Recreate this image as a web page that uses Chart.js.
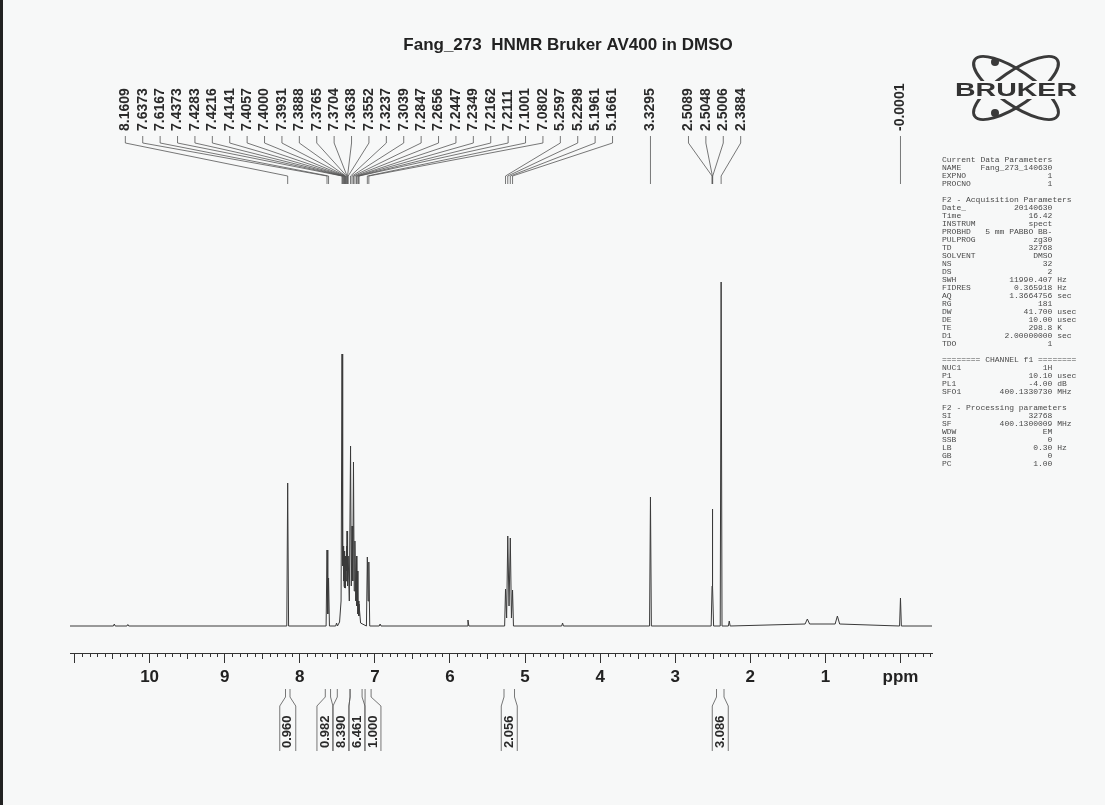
<!DOCTYPE html>
<html><head><meta charset="utf-8">
<script src="https://cdn.jsdelivr.net/npm/chart.js@4.4.1/dist/chart.umd.min.js"></script>
<style>html,body{margin:0;padding:0;background:#f7f8f8;overflow:hidden}#wrap{width:1105px;height:805px;position:relative}</style>
</head><body><div id="wrap"><canvas id="c" width="1105" height="805"></canvas></div>
<script>
const titleText = 'Fang_273  HNMR Bruker AV400 in DMSO';

// peak apexes (ppm, height above baseline)
const peakPpm = [10.47, 10.29, 8.1609, 7.6373, 7.6167, 7.51,
  7.4373, 7.4283, 7.4216, 7.4141, 7.4057, 7.4000, 7.3931, 7.3888, 7.3765, 7.3704, 7.3638, 7.3552,
  7.3237, 7.3039, 7.2847, 7.2656, 7.2447, 7.2349, 7.2162, 7.2111, 7.1001, 7.0802, 6.93,
  5.76, 5.2597, 5.2298, 5.1961, 5.1661, 4.50, 3.3295, 2.5089, 2.5048, 2.5006, 2.3884, 2.28,
  1.24, 0.84, -0.0001];
const peakHeight = [2, 1.5, 143, 76, 48, 3,
  272, 217, 80, 70, 75, 65, 60, 70, 80, 95, 75, 70,
  180, 100, 164, 85, 70, 55, 25, 22, 69, 64, 2,
  6, 37, 90, 88, 36, 3, 129, 40, 117, 40, 344, 5,
  7, 10, 28];
// valleys / envelope points between overlapping lines
const valleyPpm = [7.627, 7.47, 7.45, 7.4328, 7.4250, 7.4178, 7.4099, 7.4028, 7.3965, 7.3910, 7.3826,
  7.3735, 7.3671, 7.3595, 7.3400, 7.3138, 7.2943, 7.2750, 7.2550, 7.2398, 7.2255, 7.2136, 7.19, 7.0901,
  5.245, 5.213, 5.181, 1.27, 1.21, 0.87, 0.81];
const valleyHeight = [12, 4, 25, 150, 60, 45, 40, 38, 38, 40, 45,
  55, 50, 40, 25, 40, 45, 35, 25, 20, 12, 10, 3, 25,
  8, 20, 8, 2, 2, 2, 2];

const peakLabels = ['8.1609','7.6373','7.6167','7.4373','7.4283','7.4216','7.4141','7.4057','7.4000',
  '7.3931','7.3888','7.3765','7.3704','7.3638','7.3552','7.3237','7.3039','7.2847','7.2656','7.2447',
  '7.2349','7.2162','7.2111','7.1001','7.0802','5.2597','5.2298','5.1961','5.1661','3.3295',
  '2.5089','2.5048','2.5006','2.3884','-0.0001'];

const integralFrom = [8.19, 7.66, 7.50, 7.33, 7.13, 5.28, 2.45];
const integralTo = [8.13, 7.59, 7.33, 7.17, 7.05, 5.14, 2.35];
const integralValues = ['0.960', '0.982', '8.390', '6.461', '1.000', '2.056', '3.086'];

const paramNames = ['Current Data Parameters','NAME','EXPNO','PROCNO','',
  'F2 - Acquisition Parameters','Date_','Time','INSTRUM','PROBHD','PULPROG','TD','SOLVENT','NS','DS',
  'SWH','FIDRES','AQ','RG','DW','DE','TE','D1','TDO','',
  '======== CHANNEL f1 ========','NUC1','P1','PL1','SFO1','',
  'F2 - Processing parameters','SI','SF','WDW','SSB','LB','GB','PC'];
const paramValues = ['','Fang_273_140630','1','1','',
  '','20140630','16.42','spect','5 mm PABBO BB-','zg30','32768','DMSO','32','2',
  '11990.407','0.365918','1.3664756','181','41.700','10.00','298.8','2.00000000','1','',
  '','1H','10.10','-4.00','400.1330730','',
  '','32768','400.1300009','EM','0','0.30','0','1.00'];
const paramUnits = ['','','','','',
  '','','','','','','','','','',
  'Hz','Hz','sec','','usec','usec','K','sec','','',
  '','','usec','dB','MHz','',
  '','','MHz','','','Hz','',''];

const axisMin = -0.42, axisMax = 11.06;

// build spectrum trace from apexes + valleys + narrow feet
const pts = [];
peakPpm.forEach((p, i) => pts.push({x: p, y: peakHeight[i]}));
valleyPpm.forEach((p, i) => pts.push({x: p, y: valleyHeight[i]}));
const allX = pts.map(p => p.x);
peakPpm.forEach(p => {
  [1, -1].forEach(s => {
    const near = allX.some(q => q !== p && (q - p) * s > 0 && Math.abs(q - p) < 0.035);
    if (!near) pts.push({x: p + s * 0.012, y: 0});
  });
});
pts.push({x: axisMax, y: 0}, {x: axisMin, y: 0});
pts.sort((a, b) => b.x - a.x);

function spread(xs, gap) {
  let groups = xs.map((x, i) => ({idx: [i], sum: x}));
  let changed = true;
  while (changed) {
    changed = false;
    for (let i = 0; i < groups.length - 1; i++) {
      const a = groups[i], b = groups[i + 1];
      const ac = a.sum / a.idx.length, bc = b.sum / b.idx.length;
      const aR = ac + (a.idx.length - 1) / 2 * gap;
      const bL = bc - (b.idx.length - 1) / 2 * gap;
      if (bL - aR < gap) {
        groups.splice(i, 2, {idx: a.idx.concat(b.idx), sum: a.sum + b.sum});
        changed = true; break;
      }
    }
  }
  const out = new Array(xs.length);
  groups.forEach(g => {
    const c = g.sum / g.idx.length;
    g.idx.forEach((id, k) => { out[id] = c + (k - (g.idx.length - 1) / 2) * gap; });
  });
  return out;
}

const deco = {
  id: 'deco',
  beforeDraw(chart) {
    const ctx = chart.ctx;
    ctx.save();
    ctx.fillStyle = '#f7f8f8';
    ctx.fillRect(0, 0, chart.width, chart.height);
    ctx.fillStyle = '#222';
    ctx.fillRect(0, 0, 3, chart.height);
    ctx.restore();
  },
  afterDraw(chart) {
    const ctx = chart.ctx;
    const xs = chart.scales.x;
    const px = v => xs.getPixelForValue(v);
    const axisY = chart.chartArea.bottom;
    ctx.save();
    // minor ticks
    ctx.strokeStyle = '#333'; ctx.lineWidth = 1;
    ctx.beginPath();
    for (let i = -4; i <= 110; i++) {
      if (i % 10 === 0) continue;
      const x = Math.round(px(i / 10)) + 0.5;
      const len = (i % 5 === 0) ? 6 : 4;
      ctx.moveTo(x, axisY); ctx.lineTo(x, axisY + len);
    }
    ctx.stroke();

    // title
    ctx.fillStyle = '#222';
    ctx.font = 'bold 17px "Liberation Sans", Arial, sans-serif';
    ctx.textAlign = 'center'; ctx.textBaseline = 'middle';
    ctx.fillText(titleText, 568, 45);

    // peak labels with leaders
    const peakX = peakLabels.map(s => px(parseFloat(s)));
    const labX = spread(peakX, 17.4);
    ctx.strokeStyle = '#555'; ctx.lineWidth = 0.8;
    ctx.beginPath();
    peakX.forEach((x, i) => {
      const lx = labX[i];
      ctx.moveTo(lx, 136); ctx.lineTo(lx, 143); ctx.lineTo(x, 176); ctx.lineTo(x, 184);
    });
    ctx.stroke();
    ctx.fillStyle = '#2a2a2a';
    ctx.font = 'bold 14px "Liberation Sans", Arial, sans-serif';
    ctx.textAlign = 'left'; ctx.textBaseline = 'middle';
    peakLabels.forEach((s, i) => {
      ctx.save(); ctx.translate(labX[i], 131); ctx.rotate(-Math.PI / 2);
      ctx.fillText(s, 0, 0); ctx.restore();
    });

    // integrals
    const mids = integralFrom.map((f, i) => px((f + integralTo[i]) / 2));
    const intX = spread(mids, 16);
    ctx.strokeStyle = '#555'; ctx.lineWidth = 0.8;
    ctx.beginPath();
    integralFrom.forEach((f, i) => {
      const xa = px(f), xb = px(integralTo[i]), lx = intX[i];
      ctx.moveTo(xa, 689); ctx.lineTo(xa, 697); ctx.lineTo(lx - 8, 706); ctx.lineTo(lx - 8, 751);
      ctx.moveTo(xb, 689); ctx.lineTo(xb, 697); ctx.lineTo(lx + 8, 706); ctx.lineTo(lx + 8, 751);
    });
    ctx.stroke();
    ctx.fillStyle = '#2a2a2a';
    ctx.font = 'bold 13px "Liberation Sans", Arial, sans-serif';
    integralValues.forEach((s, i) => {
      ctx.save(); ctx.translate(intX[i], 748); ctx.rotate(-Math.PI / 2);
      ctx.textAlign = 'left'; ctx.textBaseline = 'middle';
      ctx.fillText(s, 0, 0); ctx.restore();
    });

    // parameter panel
    ctx.fillStyle = '#4a4a4a';
    ctx.font = '8px "Liberation Mono", "DejaVu Sans Mono", monospace';
    ctx.textAlign = 'left'; ctx.textBaseline = 'middle';
    paramNames.forEach((n, i) => {
      let line;
      if (!paramValues[i]) line = n;
      else {
        line = n.padEnd(8) + paramValues[i].padStart(15);
        if (paramUnits[i]) line += ' ' + paramUnits[i];
      }
      ctx.fillText(line, 942, 160 + i * 8.0);
    });

    // Bruker logo
    const cx = 1016, cy = 88;
    ctx.strokeStyle = '#3a3a3a'; ctx.lineWidth = 3;
    [0.6, -0.6].forEach(r => {
      ctx.beginPath(); ctx.ellipse(cx, cy, 50, 17, r, 0, Math.PI * 2); ctx.stroke();
    });
    ctx.fillStyle = '#3a3a3a';
    [[995, 62], [995, 113]].forEach(([dx, dy]) => {
      ctx.beginPath(); ctx.arc(dx, dy, 4, 0, Math.PI * 2); ctx.fill();
    });
    ctx.fillStyle = '#f7f8f8';
    ctx.fillRect(953, 81, 126, 18);
    ctx.fillStyle = '#333';
    ctx.save(); ctx.translate(cx, 90.5); ctx.scale(1.5, 1);
    ctx.font = 'bold 19px "Liberation Sans", Arial, sans-serif';
    ctx.textAlign = 'center'; ctx.textBaseline = 'middle';
    ctx.fillText('BRUKER', 0, 0); ctx.restore();

    ctx.restore();
  }
};

new Chart(document.getElementById('c'), {
  type: 'scatter',
  data: { datasets: [{ data: pts, showLine: true, pointRadius: 0, borderColor: '#3a3a3a', borderWidth: 1, tension: 0 }] },
  options: {
    responsive: false, animation: false, events: [],
    layout: { padding: { left: 70, right: 173, top: 190, bottom: 112 } },
    plugins: { legend: { display: false }, tooltip: { enabled: false }, title: { display: false } },
    scales: {
      x: {
        type: 'linear', reverse: true, min: axisMin, max: axisMax,
        afterFit: s => { s.height = 40; },
        ticks: {
          stepSize: 1, includeBounds: false, autoSkip: false, maxRotation: 0, padding: 4,
          color: '#222', font: { family: '"Liberation Sans", Arial, sans-serif', size: 17, weight: 'bold' },
          callback: v => v === 0 ? 'ppm' : (v === 11 ? '' : String(v))
        },
        grid: { display: true, drawOnChartArea: false, drawTicks: true, tickLength: 10, color: '#333', lineWidth: 1 },
        border: { display: true, color: '#333', width: 1 }
      },
      y: { display: false, min: -27, max: 436 }
    }
  },
  plugins: [deco]
});
</script></body></html>
